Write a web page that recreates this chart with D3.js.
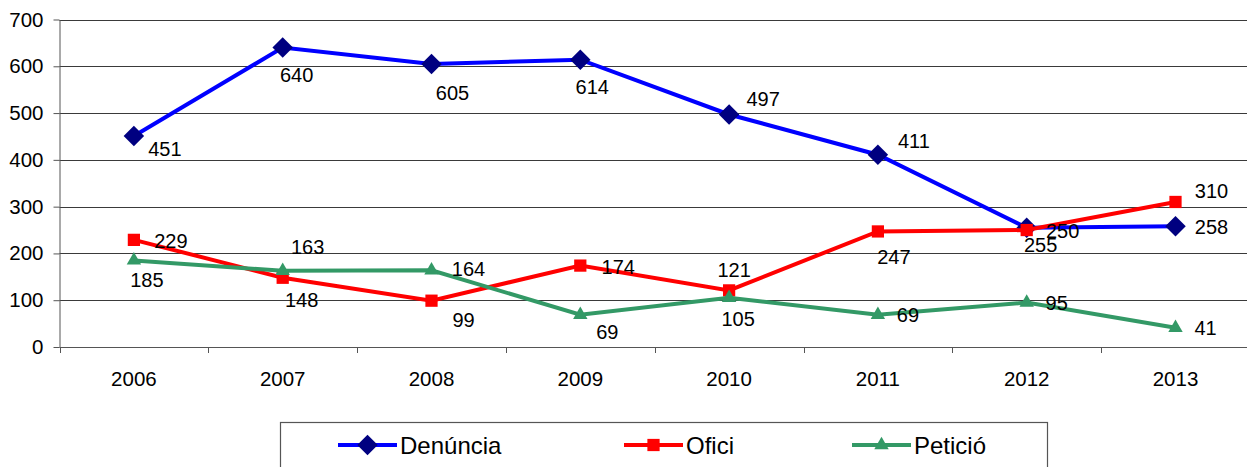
<!DOCTYPE html>
<html>
<head>
<meta charset="utf-8">
<script src="https://cdn.jsdelivr.net/npm/d3@7"></script>
<style>
  body { margin: 0; background: #fff; }
  svg { display: block; font-family: "Liberation Sans", Arial, sans-serif; }
</style>
</head>
<body>
<div id="vis"></div>
<script>
// chart data
var years = ["2006", "2007", "2008", "2009", "2010", "2011", "2012", "2013"];
var denuncia = [451, 640, 605, 614, 497, 411, 255, 258];
var ofici = [229, 148, 99, 174, 121, 247, 250, 310];
var peticio = [185, 163, 164, 69, 105, 69, 95, 41];
var yTicks = [0, 100, 200, 300, 400, 500, 600, 700];

// where each value label sits relative to its point (dx, dy in px)
var denunciaLabelPos = [[31, 13], [14, 27], [21, 29], [12, 27], [34, -16], [36, -14], [14, 17], [36, 1]];
var oficiLabelPos = [[37, 1], [19, 22], [32, 19], [38, 1], [5, -21], [16, 25], [36, 1], [36, -11]];
var peticioLabelPos = [[13, 19], [25, -24], [37, -1], [27, 17], [9, 21], [30, 0], [30, 0], [30, 0]];

var width = 1247, height = 467;
var plotLeft = 59.5, plotTop = 19.5, plotBottom = 347;

var svg = d3.select("#vis").append("svg")
    .attr("width", width)
    .attr("height", height);

var x = d3.scaleBand().domain(years).range([plotLeft, plotLeft + 8 * 148.8]);
var y = d3.scaleLinear().domain([0, 700]).range([plotBottom, plotTop]);

// gridlines
svg.append("g").selectAll("line").data(yTicks.filter(function(d){ return d > 0; }))
    .enter().append("line")
    .attr("x1", plotLeft).attr("x2", width)
    .attr("y1", function(d){ return Math.round(y(d)) + 0.5; })
    .attr("y2", function(d){ return Math.round(y(d)) + 0.5; })
    .attr("stroke", "#3a3a3a")
    .attr("stroke-width", 1.2);

// y axis
var yAxis = svg.append("g")
    .attr("transform", "translate(" + plotLeft + ",0)")
    .call(d3.axisLeft(y).tickValues(yTicks).tickSize(6).tickPadding(10).tickSizeOuter(0));
yAxis.select(".domain").attr("stroke", "#555");
yAxis.selectAll(".tick line").attr("stroke", "#555");
yAxis.selectAll("text").attr("font-size", "20.5px").attr("fill", "#000")
    .attr("font-family", "Liberation Sans, Arial, sans-serif");

// x axis
var xAxis = svg.append("g")
    .attr("transform", "translate(0," + plotBottom + ")")
    .call(d3.axisBottom(x).tickSize(0).tickPadding(24).tickSizeOuter(0));
xAxis.select(".domain").remove();
xAxis.selectAll("text").attr("font-size", "20.5px").attr("fill", "#000")
    .attr("font-family", "Liberation Sans, Arial, sans-serif");
svg.append("line")
    .attr("x1", plotLeft).attr("x2", width)
    .attr("y1", plotBottom + 0.5).attr("y2", plotBottom + 0.5)
    .attr("stroke", "#555").attr("stroke-width", 1.2);
svg.append("g").selectAll("line").data(years)
    .enter().append("line")
    .attr("x1", function(d){ return Math.round(x(d)) + 0.5; })
    .attr("x2", function(d){ return Math.round(x(d)) + 0.5; })
    .attr("y1", plotBottom).attr("y2", plotBottom + 6)
    .attr("stroke", "#555");

// diamond = square turned 45 degrees
var series = [
    { name: "Denúncia", values: denuncia, labels: denunciaLabelPos, line: "#0000ff", marker: "#000080", symbol: d3.symbolSquare, size: 210, rot: 45 },
    { name: "Ofici", values: ofici, labels: oficiLabelPos, line: "#ff0000", marker: "#ff0000", symbol: d3.symbolSquare, size: 150, rot: 0 },
    { name: "Petició", values: peticio, labels: peticioLabelPos, line: "#339966", marker: "#339966", symbol: d3.symbolTriangle, size: 90, rot: 0 }
];

var cx = function(i){ return x(years[i]) + x.bandwidth() / 2; };
var line = d3.line()
    .x(function(d, i){ return cx(i); })
    .y(function(d){ return y(d); });

function drawMarker(g, s, px, py){
    g.append("path")
        .attr("d", d3.symbol().type(s.symbol).size(s.size))
        .attr("transform", "translate(" + px + "," + py + ") rotate(" + s.rot + ")")
        .attr("fill", s.marker);
}

series.forEach(function(s){
    var g = svg.append("g");
    g.append("path")
        .datum(s.values)
        .attr("d", line)
        .attr("fill", "none")
        .attr("stroke", s.line)
        .attr("stroke-width", 4);
    s.values.forEach(function(v, i){
        drawMarker(g, s, cx(i), y(v));
    });
});

// value labels
series.forEach(function(s){
    svg.append("g").selectAll("text").data(s.values)
        .enter().append("text")
        .attr("x", function(d, i){ return cx(i) + s.labels[i][0]; })
        .attr("y", function(d, i){ return y(d) + s.labels[i][1]; })
        .attr("dy", "0.36em")
        .attr("text-anchor", "middle")
        .attr("font-size", "20px")
        .text(function(d){ return d; });
});

// legend
var legend = svg.append("g");
legend.append("rect")
    .attr("x", 280.5).attr("y", 422.5)
    .attr("width", 767).attr("height", 60)
    .attr("fill", "#fff")
    .attr("stroke", "#555")
    .attr("stroke-width", 1.2);
var legendX = [338, 624, 852];
series.forEach(function(s, i){
    var lx = legendX[i], ly = 445;
    legend.append("line")
        .attr("x1", lx).attr("x2", lx + 59)
        .attr("y1", ly).attr("y2", ly)
        .attr("stroke", s.line).attr("stroke-width", 4);
    drawMarker(legend, s, lx + 29.5, ly);
    legend.append("text")
        .attr("x", lx + 62).attr("y", ly)
        .attr("dy", "0.36em")
        .attr("font-size", "24px")
        .text(s.name);
});
</script>
</body>
</html>
